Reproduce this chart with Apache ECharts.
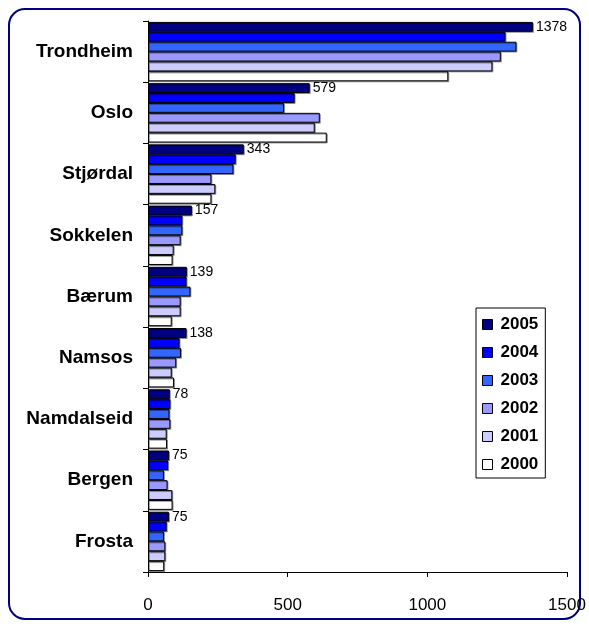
<!DOCTYPE html>
<html><head><meta charset="utf-8">
<script src="https://cdn.jsdelivr.net/npm/echarts@6/dist/echarts.min.js"></script>
<style>html,body{margin:0;padding:0;background:#fff}#c{width:589px;height:628px}</style>
</head><body><div id="c"></div>
<script>
const categories = ['Trondheim','Oslo','Stjørdal','Sokkelen','Bærum','Namsos','Namdalseid','Bergen','Frosta'];
const years = ['2005','2004','2003','2002','2001','2000'];
const v2005 = [1378, 579, 343, 157, 139, 138, 78, 75, 75];
const v2004 = [1280, 525, 314, 123, 138, 113, 80, 72, 67];
const v2003 = [1319, 487, 306, 123, 152, 118, 77, 57, 57];
const v2002 = [1263, 615, 227, 117, 117, 101, 80, 70, 62];
const v2001 = [1233, 597, 241, 92, 117, 85, 67, 87, 62];
const v2000 = [1075, 640, 227, 88, 85, 93, 68, 88, 58];
const xTicks = [0, 500, 1000, 1500];

const values = [v2005, v2004, v2003, v2002, v2001, v2000];
const colors = ['#000080', '#0000FF', '#3366FF', '#9999FF', '#CCCCFF', '#FFFFFF'];
const font = 'Liberation Sans, Arial, sans-serif';

const series = years.map((y, i) => ({
  name: y,
  type: 'bar',
  data: values[i],
  barGap: '0%',
  barCategoryGap: '3%',
  itemStyle: {
    color: colors[i], borderColor: '#000', borderWidth: 1,
    shadowColor: 'rgba(0,0,0,0.35)', shadowOffsetX: 1, shadowOffsetY: 1
  },
  label: i === 0 ? {
    show: true, position: 'right', distance: 3,
    fontFamily: font, fontSize: 14, color: '#000'
  } : { show: false },
  emphasis: { disabled: true }
}));

const chart = echarts.init(document.getElementById('c'), null, { renderer: 'canvas' });
chart.setOption({
  animation: false,
  backgroundColor: '#fff',
  textStyle: { fontFamily: font },
  grid: { left: 148, right: 22, top: 21, bottom: 56, containLabel: false },
  graphic: [{
    type: 'rect', silent: true,
    shape: { x: 9, y: 9, width: 571, height: 610, r: 16 },
    style: { fill: 'none', stroke: '#000080', lineWidth: 2 }
  }],
  legend: {
    orient: 'vertical', left: 476, top: 308,
    data: years,
    itemWidth: 10, itemHeight: 10, itemGap: 11,
    padding: [8, 7, 5, 6],
    borderColor: '#000', borderWidth: 1, borderRadius: 0,
    icon: 'rect',
    itemStyle: { borderColor: '#000', borderWidth: 1, shadowBlur: 0, shadowOffsetX: 0, shadowOffsetY: 0, shadowColor: 'transparent' },
    textStyle: { fontFamily: font, fontSize: 17, fontWeight: 'bold', color: '#000', padding: [0, 0, 0, 3] },
    selectedMode: false
  },
  xAxis: {
    type: 'value', min: 0, max: 1500, interval: 500,
    axisLine: { show: true, lineStyle: { color: '#000', width: 1 } },
    axisTick: { show: true, length: 5, lineStyle: { color: '#000' } },
    axisLabel: { fontFamily: font, fontSize: 17, color: '#000', margin: 25,
      formatter: v => xTicks.includes(v) ? String(v) : '' },
    splitLine: { show: false }
  },
  yAxis: {
    type: 'category', data: categories, inverse: true,
    axisLine: { show: true, lineStyle: { color: '#000', width: 1 } },
    axisTick: { show: true, length: 5, lineStyle: { color: '#000' } },
    axisLabel: { fontFamily: font, fontSize: 19, fontWeight: 'bold', color: '#000', margin: 15 }
  },
  series: series
});
</script>
</body></html>
